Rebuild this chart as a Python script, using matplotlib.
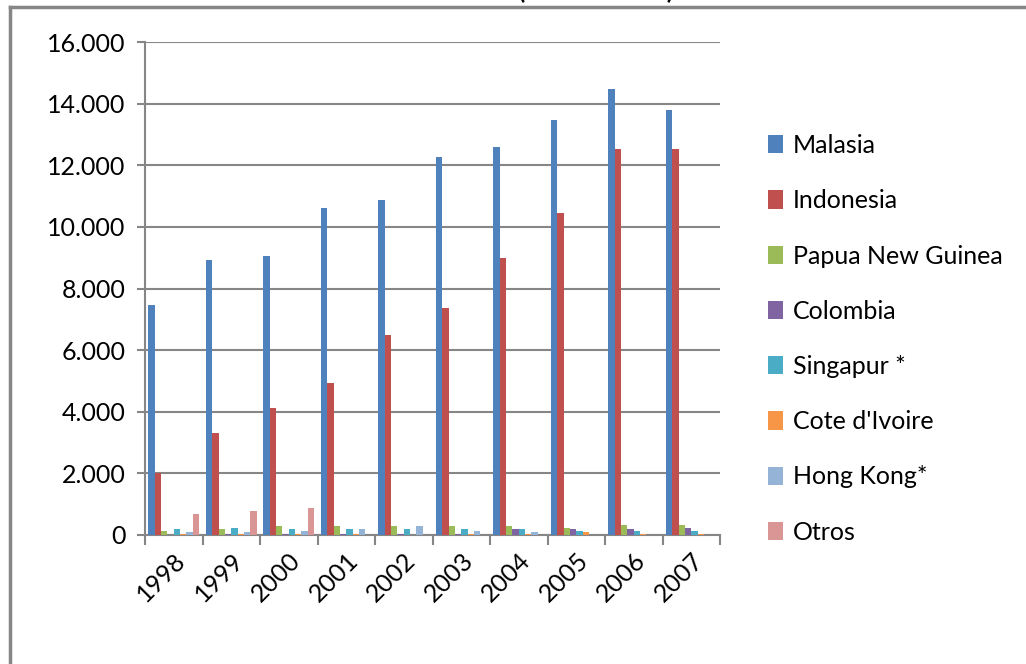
import matplotlib
matplotlib.use("Agg")
import matplotlib.pyplot as plt
import numpy as np
from matplotlib.lines import Line2D

plt.rcParams['font.family'] = ['Lato', 'DejaVu Sans']

years = ["1998", "1999", "2000", "2001", "2002", "2003", "2004", "2005", "2006", "2007"]
paises = ["Malasia", "Indonesia", "Papua New Guinea", "Colombia",
          "Singapur *", "Cote d'Ivoire", "Hong Kong*", "Otros"]

malasia = [7460, 8930, 9060, 10620, 10880, 12270, 12600, 13470, 14480, 13800]
indonesia = [2010, 3310, 4120, 4930, 6490, 7370, 8990, 10450, 12530, 12530]
papua = [140, 185, 285, 285, 285, 285, 285, 240, 340, 340]
colombia = [10, 35, 35, 35, 35, 35, 185, 185, 185, 240]
singapur = [185, 240, 185, 195, 195, 195, 185, 140, 140, 140]
cote = [45, 45, 45, 45, 0, 45, 35, 100, 45, 45]
hongkong = [100, 90, 130, 185, 295, 140, 90, 0, 0, 0]
otros = [670, 765, 865, 0, 0, 0, 0, 0, 0, 0]

series = [malasia, indonesia, papua, colombia, singapur, cote, hongkong, otros]
colores = ["#4F81BD", "#C0504D", "#9BBB59", "#8064A2",
           "#4BACC6", "#F79646", "#95B3D7", "#D99694"]

gris = "#868686"

fig = plt.figure(figsize=(10.26, 6.64), dpi=100)
ax = fig.add_axes([145/1026, 1-535/664, (720-145)/1026, (535-42)/664])

x = np.arange(len(years))
w = 0.11
for k, (vals, c, nombre) in enumerate(zip(series, colores, paises)):
    ax.bar(x + (k - 3.5)*w, vals, w, color=c, label=nombre, zorder=3)

ax.set_xlim(-0.5, len(years)-0.5)
ax.set_ylim(0, 16000)
ax.set_yticks(np.arange(0, 16001, 2000))
ax.set_yticklabels([f"{v:,}".replace(",", ".") for v in range(0, 16001, 2000)], fontsize=18)
ax.yaxis.grid(True, color=gris, lw=1.5, zorder=0)

ax.set_xticks(np.arange(-0.5, len(years), 1.0))
ax.set_xticklabels([])
ax.set_xticks(x, minor=True)
ax.set_xticklabels(years, minor=True, rotation=45, ha='right', va='top',
                   rotation_mode='anchor', fontsize=18)
ax.tick_params(axis='x', which='minor', length=0, pad=10)
ax.tick_params(axis='x', which='major', length=7, width=1.5, color=gris)
ax.tick_params(axis='y', length=6, width=1.5, color=gris, pad=8)

for s in ['top', 'right']:
    ax.spines[s].set_visible(False)
for s in ['left', 'bottom']:
    ax.spines[s].set_color(gris)
    ax.spines[s].set_linewidth(1.5)

fig.legend(loc='upper left', bbox_to_anchor=(758/1026, 1-124/664), frameon=False,
           fontsize=18, handlelength=0.6, handleheight=0.75, handletextpad=0.4,
           labelspacing=1.29, borderaxespad=0)

# marco del grafico (recortado)
fig.add_artist(Line2D([10/1026, 10/1026], [0, 1-7/664], color=gris, lw=2.5))
fig.add_artist(Line2D([10/1026, 1], [1-7/664, 1-7/664], color=gris, lw=2.5))

fig.text(543/1026, 1+1/664, "Importaciones de aceite de palma\nVolumen (en toneladas)",
         ha='center', va='baseline', fontsize=18, fontweight='bold')

fig.savefig("out.png", dpi=100)
